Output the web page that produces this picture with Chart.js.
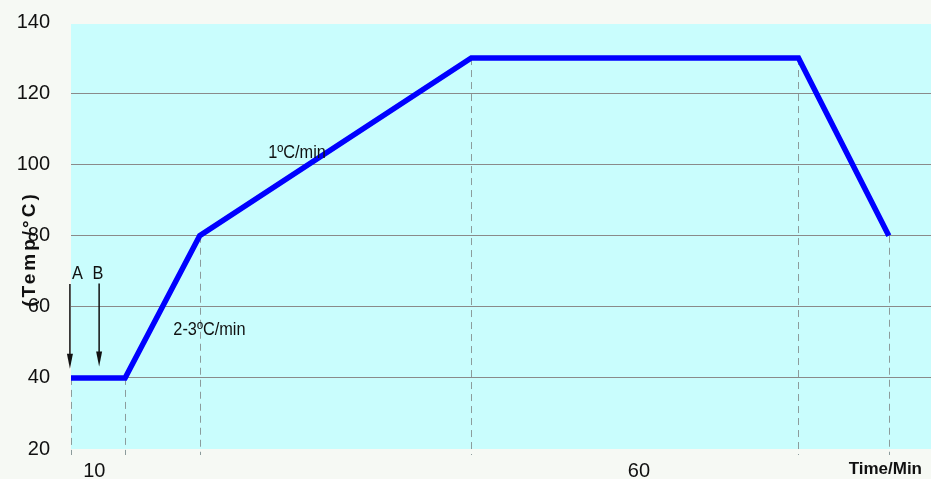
<!DOCTYPE html>
<html>
<head>
<meta charset="utf-8">
<script src="https://cdn.jsdelivr.net/npm/chart.js@4/dist/chart.umd.min.js"></script>
<style>
  html, body { margin: 0; padding: 0; background: #f6f9f4; }
  #wrap { width: 931px; height: 479px; }
</style>
</head>
<body>
<div id="wrap"><canvas id="grafico"></canvas></div>
<script>
// perfil de temperatura (min, °C)
const timeMin = [0, 10, 23.8, 74, 134.5, 151.2];
const tempC = [40, 40, 80, 130, 130, 80];

// eje x: solo dos etiquetas (duraciones de tramo)
const xTickValues = [4.3, 105];
const xTickLabels = ["10", "60"];

// eje y
const yTicks = [20, 40, 60, 80, 100, 120, 140];

// notas sobre la curva
const rateNotes = [
  { text: "1\u00baC/min", x: 41.8, y: 103.4 },
  { text: "2-3\u00baC/min", x: 25.6, y: 53.5 },
];
const arrows = [
  { label: "A", x: -0.2, labelX: 1.2, top: 66.4, tip: 42.6, labelY: 69.4 },
  { label: "B", x: 5.2, labelX: 5.0, top: 66.6, tip: 43.2, labelY: 69.4 },
];

const FONT = "'Liberation Sans', Arial, sans-serif";

// texto algo estrecho, como en el original
function textoEstrecho(ctx, txt, x, y, sx) {
  ctx.save();
  ctx.translate(x, y);
  ctx.scale(sx, 1);
  ctx.fillText(txt, 0, 0);
  ctx.restore();
}

const fondoPlot = {
  id: "fondoPlot",
  beforeDraw(chart) {
    const { ctx, chartArea: a } = chart;
    ctx.save();
    ctx.fillStyle = "#c9fdfd";
    ctx.fillRect(a.left, a.top + 1.5, a.right - a.left, a.bottom - a.top - 1.5);
    ctx.restore();
  },
};

const extras = {
  id: "extras",
  beforeDatasetsDraw(chart) {
    // lineas verticales punteadas en cada quiebre
    const { ctx, chartArea: a, scales: { x, y } } = chart;
    ctx.save();
    ctx.strokeStyle = "#8c9c9c";
    ctx.lineWidth = 1;
    ctx.setLineDash([7, 5]);
    timeMin.forEach((t, i) => {
      const px = Math.round(x.getPixelForValue(t)) + 0.5;
      ctx.beginPath();
      ctx.moveTo(px, y.getPixelForValue(tempC[i]));
      ctx.lineTo(px, a.bottom + 6);
      ctx.stroke();
    });
    ctx.restore();
  },
  afterDraw(chart) {
    const { ctx, chartArea: a, scales: { x, y } } = chart;
    ctx.save();
    ctx.fillStyle = "#111";
    ctx.strokeStyle = "#111";
    ctx.textAlign = "center";
    ctx.textBaseline = "middle";

    // textos de velocidad
    ctx.font = "19px " + FONT;
    rateNotes.forEach((n) => {
      textoEstrecho(ctx, n.text, x.getPixelForValue(n.x), y.getPixelForValue(n.y), 0.86);
    });

    // flechas A y B
    arrows.forEach((ar) => {
      const px = x.getPixelForValue(ar.x);
      const y0 = y.getPixelForValue(ar.top);
      const y1 = y.getPixelForValue(ar.tip);
      ctx.lineWidth = 1.5;
      ctx.beginPath();
      ctx.moveTo(px, y0);
      ctx.lineTo(px, y1 - 12);
      ctx.stroke();
      ctx.beginPath();
      ctx.moveTo(px - 3, y1 - 15);
      ctx.lineTo(px + 3, y1 - 15);
      ctx.lineTo(px, y1);
      ctx.closePath();
      ctx.fill();
      textoEstrecho(ctx, ar.label, x.getPixelForValue(ar.labelX), y.getPixelForValue(ar.labelY), 0.86);
    });

    // titulo eje x
    ctx.font = "bold 17px " + FONT;
    ctx.textAlign = "right";
    ctx.fillText("Time/Min", a.right - 9, a.bottom + 20);

    // titulo eje y (encima de las etiquetas, como en el original)
    ctx.translate(30, 249);
    ctx.rotate(-Math.PI / 2);
    ctx.textAlign = "center";
    ctx.font = "bold 19px " + FONT;
    ctx.letterSpacing = "3px";
    ctx.fillText("(Temp/\u00b0C)", 0, 0);
    ctx.restore();
  },
};

const ctx = document.getElementById("grafico").getContext("2d");
new Chart(ctx, {
  type: "line",
  data: {
    datasets: [
      {
        label: "Temp",
        data: timeMin.map((t, i) => ({ x: t, y: tempC[i] })),
        borderColor: "#0000ff",
        borderWidth: 5.5,
        pointRadius: 0,
        tension: 0,
        clip: false,
        borderJoinStyle: "miter",
      },
    ],
  },
  options: {
    responsive: true,
    maintainAspectRatio: false,
    animation: false,
    layout: { padding: { top: 22.5, right: 0, bottom: 0, left: 0 } },
    plugins: { legend: { display: false }, tooltip: { enabled: false } },
    scales: {
      x: {
        type: "linear",
        min: 0,
        max: 159,
        grid: { display: false },
        border: { display: false },
        afterBuildTicks: (scale) => {
          scale.ticks = xTickValues.map((v) => ({ value: v }));
        },
        afterFit: (scale) => {
          scale.height = 30;
        },
        ticks: {
          padding: 2,
          color: "#111",
          font: { family: FONT, size: 20 },
          maxRotation: 0,
          callback: (v, i) => xTickLabels[i],
        },
      },
      y: {
        min: 20,
        max: 140,
        afterBuildTicks: (scale) => {
          scale.ticks = yTicks.map((v) => ({ value: v }));
        },
        afterFit: (scale) => {
          scale.width = 71;
        },
        border: { display: false },
        grid: {
          drawTicks: true,
          tickLength: 21,
          tickColor: "rgba(0,0,0,0)",
          color: (c) => (c.tick && (c.tick.value === 20 || c.tick.value === 140) ? "rgba(0,0,0,0)" : "#8a8a8a"),
          lineWidth: 1,
        },
        ticks: {
          padding: 0,
          color: "#111",
          font: { family: FONT, size: 20 },
        },
      },
    },
  },
  plugins: [fondoPlot, extras],
});
</script>
</body>
</html>
